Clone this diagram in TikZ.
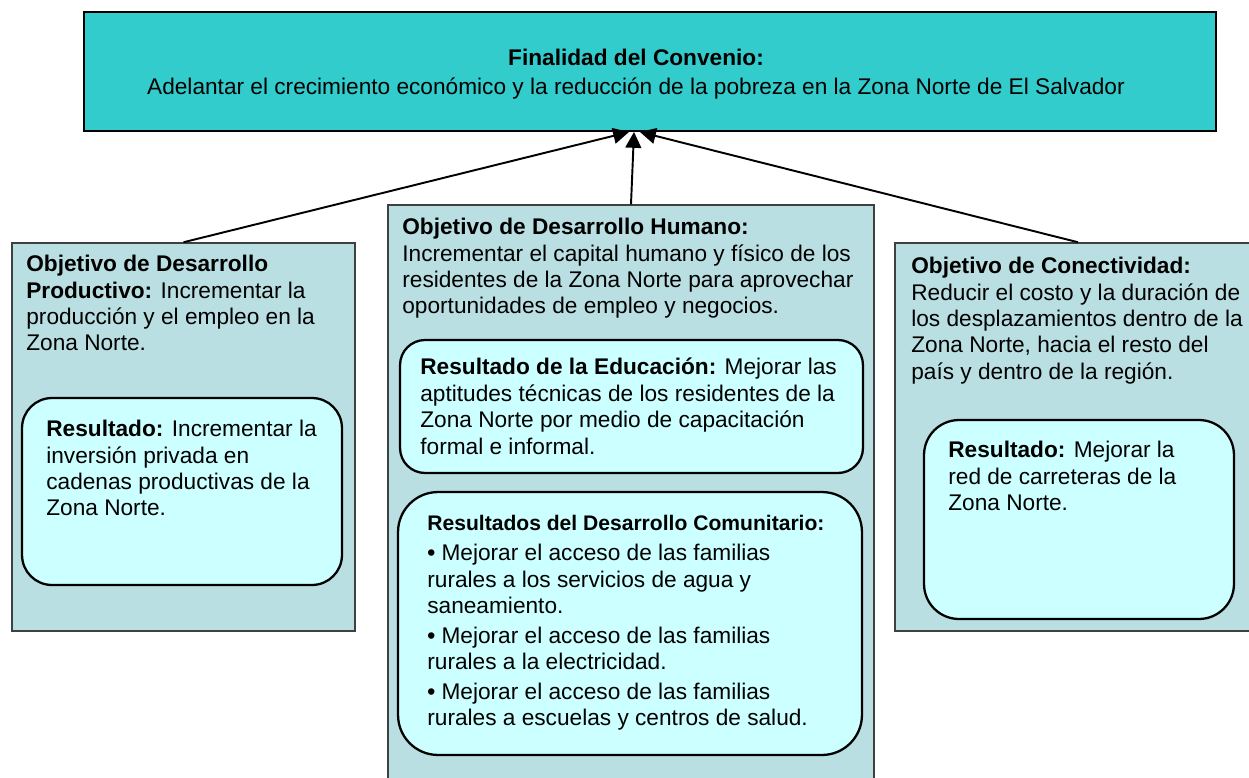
\documentclass[tikz,border=0pt]{standalone}
\usepackage{fontspec}
\setmainfont{Liberation Sans}
\usepackage{xcolor}
\usepackage{tikz}
\usetikzlibrary{positioning}
\usetikzlibrary{arrows.meta}
\definecolor{goalfill}{HTML}{33CCCC}
\definecolor{objfill}{HTML}{B9DFE2}
\definecolor{resfill}{HTML}{CCFFFF}

\begin{document}
\begin{tikzpicture}[
  x=0.02cm, y=-0.02cm,
  font=\fontsize{12.9}{15}\selectfont
]
\tikzset{
    goalbox/.style = {draw=black, line width=1.3pt, fill=goalfill, inner sep=0pt},
    objbox/.style = {draw=black!75, line width=0.9pt, fill=objfill, inner sep=0pt},
    resbox/.style = {draw=black, line width=1.3pt, fill=resfill, inner sep=0pt, rounded corners=0.6cm},
    txt/.style = {anchor=north west, align=left, inner sep=0pt},
    link/.style = {-{Triangle[length=9pt,width=9pt]}, line width=1.1pt}
}
\useasboundingbox (0,0) rectangle (1249,778);
\clip (0,0) rectangle (1249,778);

% finalidad
\node[goalbox, minimum width=22.64cm, minimum height=2.38cm] (G) at (650,71.5) {};
\node[align=center, inner sep=0pt] (Gtxt) at (636,74) {\textbf{Finalidad del Convenio:}\\[1.5pt]
  Adelantar el crecimiento económico y la reducción de la pobreza en la Zona Norte de El Salvador};

% objetivos
\node[objbox, minimum width=6.86cm, minimum height=7.76cm] (P) at (183.5,437) {};
\node[objbox, minimum width=9.72cm, minimum height=11.6cm] (H) at (631,495) {};
\node[objbox, minimum width=7.32cm, minimum height=7.76cm] (C) at (1078,437) {};

% resultados
\node[resbox, minimum width=6.4cm, minimum height=3.74cm] (PR) at (182,491.5) {};
\node[resbox, minimum width=9.26cm, minimum height=2.66cm, rounded corners=0.5cm] (HE) at (631.5,406.5) {};
\node[resbox, minimum width=9.28cm, minimum height=5.26cm, rounded corners=0.8cm] (HC) at (630,623.5) {};
\node[resbox, minimum width=6.2cm, minimum height=3.98cm, rounded corners=0.7cm] (CR) at (1079,519.5) {};

\node[txt] (Ptxt) at (26,255) {\textbf{Objetivo de Desarrollo}\\
  \textbf{Productivo:} Incrementar la\\producción y el empleo en la\\Zona Norte.};
\node[txt] (PRtxt) at (46,420) {\textbf{Resultado:} Incrementar la\\
  inversión privada en\\cadenas productivas de la\\Zona Norte.};
\node[txt] (Htxt) at (402,218) {\textbf{Objetivo de Desarrollo Humano:}\\
  Incrementar el capital humano y físico de los\\residentes de la Zona Norte para aprovechar\\
  oportunidades de empleo y negocios.};
\node[txt] (HEtxt) at (420,358) {\textbf{Resultado de la Educación:} Mejorar las\\
  aptitudes técnicas de los residentes de la\\Zona Norte por medio de capacitación\\formal e informal.};
\node[txt, font=\fontsize{12}{14}\selectfont\bfseries] (HCtitle) at (427,515) {Resultados del Desarrollo Comunitario:};
\node[txt] (HCtxt) at (427,544) {\textbf{\textbullet} Mejorar el acceso de las familias\\
  rurales a los servicios de agua y\\saneamiento.\\[2pt]
  \textbf{\textbullet} Mejorar el acceso de las familias\\rurales a la electricidad.\\[2pt]
  \textbf{\textbullet} Mejorar el acceso de las familias\\rurales a escuelas y centros de salud.};
\node[txt] (Ctxt) at (911,257) {\textbf{Objetivo de Conectividad:}\\
  Reducir el costo y la duración de\\los desplazamientos dentro de la\\
  Zona Norte, hacia el resto del\\país y dentro de la región.};
\node[txt] (CRtxt) at (948,441) {\textbf{Resultado:} Mejorar la\\red de carreteras de la\\Zona Norte.};

% flechas
\coordinate (aimP) at (629,132);
\coordinate (aimH) at (634,132);
\coordinate (aimC) at (640,132);
\draw[link] (P.north) -- (aimP);
\draw[link] (H.north) -- (aimH);
\draw[link] (C.north) -- (aimC);
\end{tikzpicture}
\end{document}
